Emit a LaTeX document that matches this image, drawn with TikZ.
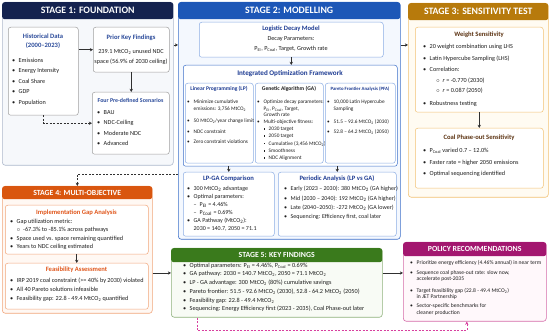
\documentclass[tikz,border=0pt]{standalone}
\usepackage{fontspec}
\setmainfont{Carlito}
\usetikzlibrary{arrows.meta,calc}
\definecolor{wfInk}{HTML}{1E1E1E}
\definecolor{wfArrow}{HTML}{303030}
\definecolor{wfNavy}{HTML}{14224F}
\definecolor{wfNavyLine}{HTML}{AEB9CC}
\definecolor{wfNavyFill}{HTML}{F6F8FB}
\definecolor{wfNavyText}{HTML}{2A4A9A}
\definecolor{wfGrey}{HTML}{A0A0A0}
\definecolor{wfBlue}{HTML}{1D57B7}
\definecolor{wfBlueLine}{HTML}{3D70C9}
\definecolor{wfBlueSoft}{HTML}{8DAEE4}
\definecolor{wfBlueFill}{HTML}{F4F8FE}
\definecolor{wfBlueText}{HTML}{1E3C93}
\definecolor{wfGold}{HTML}{B77A0C}
\definecolor{wfGoldLine}{HTML}{F2C274}
\definecolor{wfGoldFill}{HTML}{FFFBF2}
\definecolor{wfBrown}{HTML}{5C3312}
\definecolor{wfOrange}{HTML}{D9560F}
\definecolor{wfOrangeLine}{HTML}{F1A67C}
\definecolor{wfOrangeFill}{HTML}{FFF8F3}
\definecolor{wfOrangeText}{HTML}{E0561B}
\definecolor{wfGreen}{HTML}{3A7A1C}
\definecolor{wfGreenLine}{HTML}{8FB27D}
\definecolor{wfGreenFill}{HTML}{F8FBF5}
\definecolor{wfPlum}{HTML}{A3166F}
\definecolor{wfPlumLine}{HTML}{D56CA9}
\definecolor{wfPlumFill}{HTML}{FFF8FB}
\definecolor{wfPink}{HTML}{D8409F}
\newcommand\mtco{MtCO\textsubscript{2}}
\newcommand\pei{P\textsubscript{EI}}
\newcommand\pcoal{P\textsubscript{Coal}}
\newcommand\wfdot{\makebox[6.5pt][l]{\textbullet}}
\newcommand\wfcont{\hspace*{6.5pt}}
\newcommand\wfring{\makebox[6.5pt][l]{$\circ$}}
\newcommand\wfsq{\makebox[5pt][l]{\rule[.9pt]{1.4pt}{1.4pt}}}
\newcommand\wfdash{\makebox[6pt][l]{--}}
\tikzset{
  wf panel/.style 2 args={draw=#1, fill=#2, line width=.6pt, rounded corners=3pt,
    anchor=north west, inner sep=0pt},
  wf head/.style={fill=#1, rounded corners=2.5pt, anchor=north west, inner sep=0pt,
    text=white, font=\bfseries\fontsize{9.8}{11}\selectfont},
  wf small head/.style={wf head=#1, font=\bfseries\fontsize{7.8}{9}\selectfont},
  wf box/.style 2 args={draw=#1, fill=#2, line width=.5pt, rounded corners=2.5pt,
    anchor=north west, inner sep=0pt},
  wf title/.style={font=\bfseries\fontsize{6.6}{8}\selectfont, text=#1, inner sep=0pt},
  wf subtitle/.style={font=\bfseries\fontsize{5.6}{7}\selectfont, text=#1, inner sep=0pt},
  wf item/.style={font=\fontsize{6.2}{7}\selectfont, text=wfInk, anchor=west,
    inner sep=0pt, text height=4.3pt, text depth=1.2pt},
  wf small item/.style={wf item, font=\fontsize{5.3}{6}\selectfont},
  wf note/.style={wf item, anchor=center},
  wf arrow/.style={draw=wfArrow, line width=.6pt, -{Stealth[length=3.2pt,width=3.2pt]}},
  wf link/.style={wf arrow, dash pattern=on 2pt off 1.5pt},
  wf pink link/.style={wf link, draw=wfPink}
}
\begin{document}
\begin{tikzpicture}[x=1pt,y=-1pt]
  \useasboundingbox[fill=white] (0,0) rectangle (550,336);

  % stage 1
  \node[wf panel={wfNavyLine}{wfNavyFill}, minimum width=171pt, minimum height=163pt] (s1) at (2,2) {};
  \node[wf head=wfNavy, minimum width=171pt, minimum height=17pt] (s1 head) at (2,2) {STAGE 1: FOUNDATION};

  \node[wf box={wfGrey}{white}, minimum width=70pt, minimum height=88pt] (hist) at (8,27) {};
  \node[wf title=wfNavyText] (hist title) at (43,36) {Historical Data};
  \node[wf title=wfNavyText] (hist years) at (43,46) {(2000--2023)};
  \foreach \y/\txt in {61/Emissions, 71/{Energy Intensity}, 82/{Coal Share}, 92/GDP, 103/Population}
    \node[wf item] (hist-\y) at (12,\y) {\wfdot\txt};

  \node[wf box={wfGrey}{white}, minimum width=76pt, minimum height=45pt] (prior) at (93,27) {};
  \node[wf title=wfNavyText] (prior title) at (131,38) {Prior Key Findings};
  \node[wf note] (prior-1) at (131,52) {239.1 \mtco{} unused NDC};
  \node[wf note] (prior-2) at (131,62) {space (56.9\% of 2030 ceiling)};

  \node[wf box={wfGrey}{white}, minimum width=77pt, minimum height=62pt] (scen) at (92,92) {};
  \node[wf title=wfNavyText, font=\bfseries\fontsize{5.9}{7}\selectfont] (scen title) at (130.5,100)
    {Four Pre-defined Scenarios};
  \foreach \y/\txt in {113/BAU, 123/NDC-Ceiling, 134/{Moderate NDC}, 144/Advanced}
    \node[wf item] (scen-\y) at (97,\y) {\wfdot\txt};

  % stage 2
  \node[wf panel={wfBlueLine}{wfBlueFill}, minimum width=222pt, minimum height=237pt] (s2) at (178,2) {};
  \node[wf head=wfBlue, minimum width=222pt, minimum height=17pt] (s2 head) at (178,2) {STAGE 2: MODELLING};

  \node[wf box={wfBlueSoft}{white}, minimum width=184pt, minimum height=35pt] (logi) at (199,22) {};
  \node[wf title=wfBlueText] (logi title) at (291,29) {Logistic Decay Model};
  \node[wf note] (logi-1) at (291,39) {Decay Parameters:};
  \node[wf note] (logi-2) at (291,49) {\pei, \pcoal, Target, Growth rate};

  \node[wf box={wfBlueLine}{white}, minimum width=214pt, minimum height=101pt] (integ) at (183,65) {};
  \node[wf title=wfBlueText, font=\bfseries\fontsize{7.1}{8}\selectfont] (integ title) at (290,74)
    {Integrated Optimization Framework};

  \node[wf box={wfBlueSoft}{white}, minimum width=68pt, minimum height=80pt] (lp) at (185,83) {};
  \node[wf subtitle=wfBlueText] (lp title) at (219,89) {Linear Programming (LP)};
  \foreach \y/\txt in {102/{\wfdot Minimize cumulative}, 108.5/{\wfcont emissions: 3,756 \mtco},
      121/{\wfdot 50 \mtco/year change limit}, 132/{\wfdot NDC constraint},
      142/{\wfdot Zero constraint violations}}
    \node[wf small item] (lp-\y) at (187,\y) {\txt};

  \node[wf box={wfBlueSoft}{white}, minimum width=68pt, minimum height=80pt] (ga) at (255,83) {};
  \node[wf subtitle=wfInk] (ga title) at (289,89) {Genetic Algorithm (GA)};
  \foreach \y/\txt in {102/{\wfdot Optimize decay parameters:}, 108.5/{\wfcont \pei, \pcoal, Target,},
      115/{\wfcont Growth rate}, 122/{\wfdot Multi-objective fitness:},
      129/{\wfcont\wfsq 2030 target}, 136/{\wfcont\wfsq 2050 target},
      143.5/{\wfcont\wfsq Cumulative (3,456 \mtco)}, 151/{\wfcont\wfsq Smoothness},
      158/{\wfcont\wfsq NDC Alignment}}
    \node[wf small item] (ga-\y) at (257,\y) {\txt};

  \node[wf box={wfBlueSoft}{white}, minimum width=70pt, minimum height=80pt] (pfa) at (325,83) {};
  \node[wf subtitle=wfBlueText, font=\bfseries\fontsize{4.8}{6}\selectfont] (pfa title) at (360,89)
    {Pareto Frontier Analysis (PFA)};
  \foreach \y/\txt in {102/{\wfdot 10,000 Latin Hypercube}, 109/{\wfcont Sampling},
      122/{\wfdot 51.5 -- 92.6 \mtco{} (2030)}, 132/{\wfdot 52.8 -- 64.2 \mtco{} (2050)}}
    \node[wf small item] (pfa-\y) at (327,\y) {\txt};

  \node[wf box={wfBlueSoft}{white}, minimum width=91pt, minimum height=64pt] (lpga) at (183,172) {};
  \node[wf title=wfBlueText] (lpga title) at (228.5,179) {LP-GA Comparison};
  \foreach \y/\txt in {189/{\wfdot 300 \mtco{} advantage}, 197/{\wfdot Optimal parameters:},
      205/{\wfcont\wfdash \pei{} = 4.46\%}, 213/{\wfcont\wfdash \pcoal{} = 0.69\%},
      221/{\wfdot GA Pathway (\mtco):}, 229/{\wfcont 2030 = 140.7, 2050 = 71.1}}
    \node[wf item, font=\fontsize{6}{7}\selectfont] (lpga-\y) at (187,\y) {\txt};

  \node[wf box={wfBlueSoft}{white}, minimum width=118pt, minimum height=64pt] (peri) at (278,172) {};
  \node[wf title=wfBlueText] (peri title) at (337,179) {Periodic Analysis (LP vs GA)};
  \foreach \y/\txt in {189/{\wfdot Early (2023 -- 2030): 380 \mtco{} (GA higher)},
      199/{\wfdot Mid (2030 -- 2040): 192 \mtco{} (GA higher)},
      208/{\wfdot Late (2040--2050): -272 \mtco{} (GA lower)},
      217/{\wfdot Sequencing: Efficiency first, coal later}}
    \node[wf item, font=\fontsize{6}{7}\selectfont] (peri-\y) at (284,\y) {\txt};

  % stage 3
  \node[wf panel={wfGoldLine}{wfGoldFill}, minimum width=140pt, minimum height=194pt] (s3) at (408,3) {};
  \node[wf head=wfGold, minimum width=140pt, minimum height=17pt] (s3 head) at (408,3) {STAGE 3: SENSITIVITY TEST};

  \node[wf box={wfGoldLine}{white}, minimum width=128pt, minimum height=85pt] (wsens) at (415,27) {};
  \node[wf title=wfBrown] (wsens title) at (479,35) {Weight Sensitivity};
  \foreach \y/\txt in {47/{\wfdot 20 weight combination using LHS}, 59/{\wfdot Latin Hypercube Sampling (LHS)},
      70/{\wfdot Correlation:}, 81/{\wfcont\wfcont\wfring \textit{r} = -0.770 (2030)},
      91/{\wfcont\wfcont\wfring \textit{r} = 0.087 (2050)}, 104/{\wfdot Robustness testing}}
    \node[wf item] (wsens-\y) at (423,\y) {\txt};

  \node[wf box={wfGoldLine}{white}, minimum width=128pt, minimum height=60pt] (csens) at (415,128) {};
  \node[wf title=wfBrown] (csens title) at (479,138) {Coal Phase-out Sensitivity};
  \foreach \y/\txt in {151/{\wfdot \pcoal{} varied 0.7 -- 12.0\%},
      162.5/{\wfdot Faster rate = higher 2050 emissions}, 174/{\wfdot Optimal sequencing identified}}
    \node[wf item] (csens-\y) at (423,\y) {\txt};

  % stage 4
  \node[wf panel={wfOrangeLine}{wfOrangeFill}, minimum width=150pt, minimum height=127pt] (s4) at (2,186) {};
  \node[wf small head=wfOrange, minimum width=150pt, minimum height=13pt] (s4 head) at (2,186) {STAGE 4: MULTI-OBJECTIVE};

  \node[wf box={wfOrangeLine}{white}, minimum width=143pt, minimum height=49pt] (impl) at (5,205) {};
  \node[wf title=wfOrangeText] (impl title) at (76.5,213) {Implementation Gap Analysis};
  \foreach \y/\txt in {222/{\wfdot Gap utilization metric:},
      230/{\wfcont\wfring -67.3\% to -85.1\% across pathways},
      239/{\wfdot Space used vs. space remaining quantified}, 247/{\wfdot Years to NDC ceiling estimated}}
    \node[wf item] (impl-\y) at (10,\y) {\txt};

  \node[wf box={wfOrangeLine}{white}, minimum width=143pt, minimum height=46pt] (feas) at (5,263) {};
  \node[wf title=wfOrangeText] (feas title) at (76.5,270) {Feasibility Assessment};
  \foreach \y/\txt in {281/{\wfdot IRP 2019 coal constraint (>= 40\% by 2030) violated},
      290/{\wfdot All 40 Pareto solutions infeasible},
      299/{\wfdot Feasibility gap: 22.8 - 49.4 \mtco{} quantified}}
    \node[wf item] (feas-\y) at (10,\y) {\txt};

  % stage 5
  \node[wf panel={wfGreenLine}{wfGreenFill}, minimum width=211pt, minimum height=69pt] (s5) at (171,248) {};
  \node[wf small head=wfGreen, minimum width=211pt, minimum height=14pt] (s5 head) at (171,248) {STAGE 5: KEY FINDINGS};
  \foreach \y/\txt in {266/{\wfdot Optimal parameters: \pei{} = 4.46\%, \pcoal{} = 0.69\%},
      274/{\wfdot GA pathway: 2030 = 140.7 \mtco, 2050 = 71.1 \mtco},
      282.5/{\wfdot LP - GA advantage: 300 \mtco{} (80\%) cumulative savings},
      292/{\wfdot Pareto frontier: 51.5 - 92.6 \mtco{} (2030), 52.8 - 64.2 \mtco{} (2050)},
      301/{\wfdot Feasibility gap: 22.8 - 49.4 \mtco},
      309/{\wfdot Sequencing: Energy Efficiency first (2023 - 2035), Coal Phase-out later}}
    \node[wf item] (s5-\y) at (183,\y) {\txt};

  % policy
  \node[wf panel={wfPlumLine}{wfPlumFill}, minimum width=143pt, minimum height=79pt] (policy) at (403,242) {};
  \node[wf small head=wfPlum, minimum width=143pt, minimum height=14pt] (policy head) at (403,242) {POLICY RECOMMENDATIONS};
  \foreach \y/\txt in {263/{\wfdot Prioritize energy efficiency (4.46\% annual) in near term},
      272.5/{\wfdot Sequence coal phase-out rate: slow now,}, 278.5/{\wfcont accelerate post-2035},
      291/{\wfdot Target feasibility gap (22.8 - 49.4 \mtco)}, 297/{\wfcont in JET Partnership},
      306/{\wfdot Sector-specific benchmarks for}, 312.5/{\wfcont cleaner production}}
    \node[wf item, font=\fontsize{5.6}{7}\selectfont] (policy-\y) at (410,\y) {\txt};

  % connectors
  \draw[wf arrow] (hist.east |- prior.west) -- (prior.west);
  \draw[wf arrow] (prior.south) -- (prior.south |- scen.north);
  \draw[wf link] (hist.south) |- (scen.west);
  \draw[wf arrow] (s1.east |- 0,45) -- (s2.west |- 0,45);
  \draw[wf arrow] (logi.south) -- (logi.south |- integ.north);
  \draw[wf arrow] (lpga.north |- integ.south) -- (lpga.north);
  \draw[wf arrow] (peri.north |- integ.south) -- (peri.north);
  \draw[wf arrow] (s2.east |- 0,45) -- (s3.west |- 0,45);
  \draw[wf arrow] (wsens.south) -- (csens.north);
  \draw[wf link] (s2.west |- 0,174) -| (s4.north);
  \draw[wf arrow] (impl.south) -- (feas.north);
  \draw[wf arrow] (s4.east |- 0,273) -- (s5.west |- 0,273);
  \draw[wf arrow] (s5.east |- 0,273) -- (policy.west |- 0,273);
  \draw[wf pink link] (s5.south -| 197,0) -- ++(0,13) -| ([xshift=-8pt]policy.south);
\end{tikzpicture}
\end{document}
